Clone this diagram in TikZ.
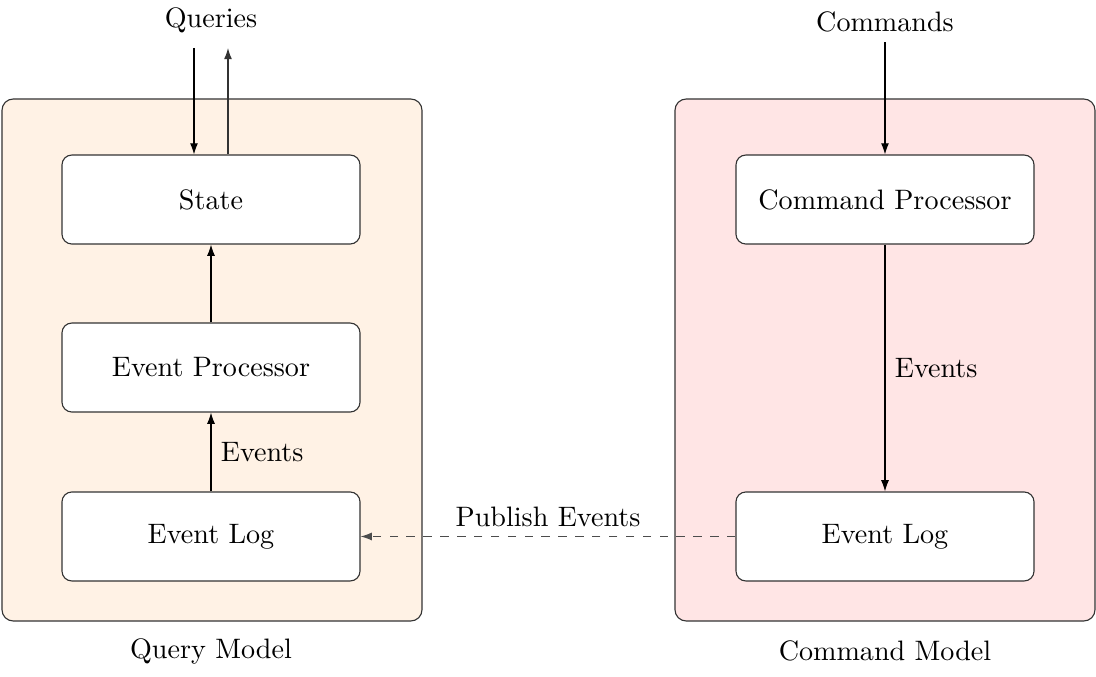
\documentclass[tikz,border=0pt]{standalone}
\usetikzlibrary{arrows.meta}

\tikzset{
  model/.style={draw=black!80, rounded corners=4pt},
  block/.style={draw=black!80, fill=white, rounded corners=3.5pt,
    minimum width=3.725cm, minimum height=1.1125cm},
  flow/.style={-{Latex[length=1.4mm,width=1mm]}},
}

\begin{document}
\begin{tikzpicture}
\useasboundingbox (0,0) rectangle (13.7,8.45);

% the two models
\draw[model, fill=orange!10] (0.025,0.6875) rectangle (5.275,7.2125);
\draw[model, fill=red!10] (8.4375,0.6875) rectangle (13.6875,7.2125);
\node (qm) at (2.6375,0.3125) {Query Model};
\node (cm) at (11.0625,0.3125) {Command Model};

% query side
\node[block] (state) at (2.6375,5.956) {State};
\node[block] (eproc) at (2.6375,3.856) {Event Processor};
\node[block] (qlog) at (2.6375,1.744) {Event Log};
\node (queries) at (2.6375,8.2) {Queries};
\coordinate (qin) at (2.425,7.85);
\coordinate (qout) at (2.85,7.85);

\draw[flow] (qin) -- (qin |- state.north);
\draw[flow, black!80] (qout |- state.north) -- (qout);
\draw[flow] (eproc) -- (state);
\draw[flow] (qlog) -- node[right] {Events} (eproc);

% command side
\node[block] (cproc) at (11.0625,5.956) {Command Processor};
\node[block] (clog) at (11.0625,1.744) {Event Log};
\node (commands) at (11.0625,8.175) {Commands};

\draw[flow] (commands) -- (cproc);
\draw[flow] (cproc) -- node[right] {Events} (clog);

% publishing
\draw[flow, dashed, black!70, dash pattern=on 3pt off 3pt] (clog) -- node[above, black] {Publish Events} (qlog);

\end{tikzpicture}
\end{document}
